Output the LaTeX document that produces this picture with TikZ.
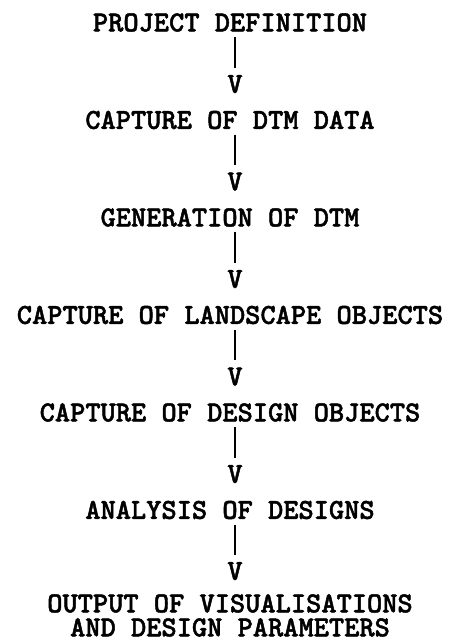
\documentclass[tikz,border=0pt]{standalone}
\usepackage{fontspec}
\newfontfamily\stagefont[FakeBold=1.6]{lmmonolt10-bold.otf}
\tikzstyle{stage}=[font=\stagefont\fontsize{29}{24}\selectfont, inner sep=0pt, text height=17.7pt, text depth=0pt]
\tikzstyle{vmark}=[stage]
\tikzstyle{bar}=[draw, line width=2.6pt, shorten <=5.5pt, shorten >=7.2pt]

\begin{document}
\begin{tikzpicture}[x=1pt, y=-1pt]
    \useasboundingbox (0,0) rectangle (449,641);
    % First we set the stages of the project
    \foreach \pos/\name/\txt in {{(230,22.5)/s1/PROJECT DEFINITION}, {(230,120)/s2/CAPTURE OF DTM DATA}, {(230,217.5)/s3/GENERATION OF DTM}, {(230,315)/s4/CAPTURE OF LANDSCAPE OBJECTS}, {(230,412.5)/s5/CAPTURE OF DESIGN OBJECTS}, {(230,510)/s6/ANALYSIS OF DESIGNS}}
        \node[stage] (\name) at \pos {\txt};
    \node[stage, align=center, anchor=south] (s7) at (230,636.5) {OUTPUT OF VISUALISATIONS\\AND DESIGN PARAMETERS};
    % Then the V marks under each stage and the bars down to them
    \foreach \source/\y/\name in {s1/84/v1, s2/181.5/v2, s3/279/v3, s4/376.5/v4, s5/474/v5, s6/571/v6}
    {
        \node[vmark] (\name) at (235,\y) {V};
        \path[bar] (\source.south -| \name) -- (\name.north);
    }
\end{tikzpicture}
\end{document}
